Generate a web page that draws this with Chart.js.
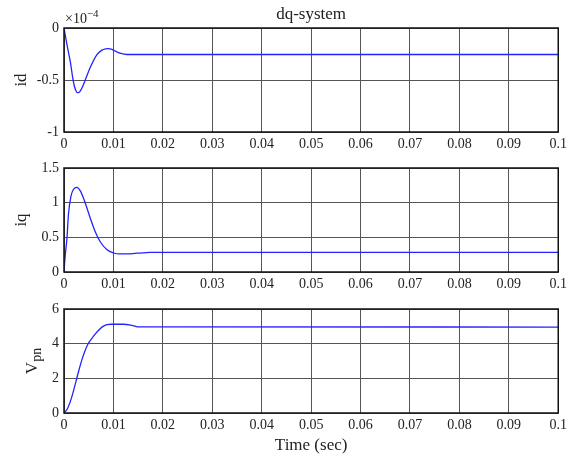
<!DOCTYPE html>
<html>
<head>
<meta charset="utf-8">
<script src="https://cdn.jsdelivr.net/npm/chart.js@4.4.0/dist/chart.umd.min.js"></script>
<style>
    body { margin: 0; background: #fff; }
    #wrap { position: relative; width: 571px; height: 460px; }
    .panel { position: absolute; left: 0; width: 571px; }
</style>
</head>
<body>
<div id="wrap">
    <div class="panel" style="top:0;height:150px"><canvas id="chartId"></canvas></div>
    <div class="panel" style="top:150px;height:140px"><canvas id="chartIq"></canvas></div>
    <div class="panel" style="top:290px;height:170px"><canvas id="chartVpn"></canvas></div>
</div>
<script>
// Data (time in seconds)
// id is plotted in units of 1e-4
const idTime = [0, 0.0006, 0.0013, 0.0018, 0.0021, 0.0024, 0.0027, 0.003, 0.0033, 0.0037, 0.0043, 0.0053, 0.0066, 0.0076, 0.0084, 0.009, 0.0097, 0.0105, 0.0115, 0.0127, 0.1];
const idValues = [0, -0.16, -0.33, -0.49, -0.56, -0.6, -0.622, -0.62, -0.605, -0.57, -0.5, -0.38, -0.26, -0.215, -0.2, -0.198, -0.205, -0.225, -0.245, -0.255, -0.255];

const iqTime = [0, 0.0002, 0.0006, 0.0009, 0.0014, 0.0019, 0.0026, 0.0033, 0.0043, 0.0053, 0.0063, 0.0073, 0.0087, 0.01, 0.0113, 0.0127, 0.0147, 0.016, 0.0175, 0.1];
const iqValues = [0, 0.2, 0.49, 0.83, 1.09, 1.19, 1.22, 1.17, 0.995, 0.78, 0.585, 0.44, 0.32, 0.274, 0.26, 0.26, 0.272, 0.275, 0.283, 0.283];

const vpnTime = [0, 0.0006, 0.0012, 0.0018, 0.0024, 0.003, 0.0036, 0.0042, 0.0048, 0.0055, 0.0063, 0.0071, 0.0079, 0.0087, 0.0095, 0.012, 0.0135, 0.0145, 0.015, 0.1];
const vpnValues = [0, 0.2, 0.6, 1.15, 1.8, 2.45, 3.05, 3.55, 3.95, 4.25, 4.55, 4.8, 5.0, 5.1, 5.12, 5.12, 5.07, 5.0, 4.97, 4.96];

// Tick values
const xTicks = [0, 0.01, 0.02, 0.03, 0.04, 0.05, 0.06, 0.07, 0.08, 0.09, 0.1];
const idTicks = [-1, -0.5, 0];
const iqTicks = [0, 0.5, 1, 1.5];
const vpnTicks = [0, 2, 4, 6];

const SERIF = '"Liberation Serif", "Times New Roman", serif';
const LINE_COLOR = '#2323ff';
const GRID_COLOR = '#555';
const TEXT_COLOR = '#222';

// Box around plot area (MATLAB style)
const framePlugin = {
    id: 'frame',
    afterDraw(chart) {
        const { ctx, chartArea: a } = chart;
        ctx.save();
        ctx.strokeStyle = '#111';
        ctx.lineWidth = 1.5;
        ctx.strokeRect(a.left, a.top, a.right - a.left, a.bottom - a.top);
        ctx.restore();
    }
};

// Rotated y label, with optional subscript
function yLabelPlugin(text, sub, x) {
    return {
        id: 'yLabel',
        afterDraw(chart) {
            const { ctx, chartArea } = chart;
            const yMid = (chartArea.top + chartArea.bottom) / 2;
            ctx.save();
            ctx.translate(x, yMid);
            ctx.rotate(-Math.PI / 2);
            ctx.fillStyle = TEXT_COLOR;
            ctx.textBaseline = 'middle';
            ctx.textAlign = 'left';
            ctx.font = '17px ' + SERIF;
            const w1 = ctx.measureText(text).width;
            let w2 = 0;
            if (sub) {
                ctx.font = '14px ' + SERIF;
                w2 = ctx.measureText(sub).width;
            }
            const start = -(w1 + w2) / 2;
            ctx.font = '17px ' + SERIF;
            ctx.fillText(text, start, 0);
            if (sub) {
                ctx.font = '14px ' + SERIF;
                ctx.fillText(sub, start + w1, 4);
            }
            ctx.restore();
        }
    };
}

// "x10^-4" exponent label above the first plot
const exponentPlugin = {
    id: 'exponent',
    afterDraw(chart) {
        const { ctx, chartArea } = chart;
        ctx.save();
        ctx.fillStyle = TEXT_COLOR;
        ctx.textAlign = 'left';
        ctx.textBaseline = 'alphabetic';
        ctx.font = '14px ' + SERIF;
        const base = '\u00d710';
        ctx.fillText(base, chartArea.left + 1, 23);
        const w = ctx.measureText(base).width;
        ctx.font = '11px ' + SERIF;
        ctx.fillText('\u22124', chartArea.left + 1 + w, 17);
        ctx.restore();
    }
};

function makeChart(canvasId, time, values, yTicks, cfg) {
    const points = time.map((t, i) => ({ x: t, y: values[i] }));
    return new Chart(document.getElementById(canvasId), {
        type: 'line',
        data: {
            datasets: [{
                data: points,
                borderColor: LINE_COLOR,
                borderWidth: 1.3,
                pointRadius: 0,
                cubicInterpolationMode: 'monotone',
                fill: false
            }]
        },
        options: {
            responsive: true,
            maintainAspectRatio: false,
            animation: false,
            layout: { padding: { left: 0, right: 10, top: cfg.padTop, bottom: 0 } },
            plugins: {
                legend: { display: false },
                tooltip: { enabled: false },
                title: cfg.title ? {
                    display: true,
                    text: cfg.title,
                    fullSize: false,
                    color: TEXT_COLOR,
                    font: { family: SERIF, size: 17, weight: 'normal' },
                    padding: { top: 4, bottom: 3.6 }
                } : { display: false }
            },
            scales: {
                x: {
                    type: 'linear',
                    min: 0,
                    max: 0.1,
                    afterBuildTicks: scale => { scale.ticks = xTicks.map(v => ({ value: v })); },
                    afterFit: scale => { scale.height = cfg.xHeight; },
                    grid: { color: GRID_COLOR, lineWidth: 1, drawTicks: false },
                    border: { display: false },
                    ticks: {
                        color: TEXT_COLOR,
                        padding: 4,
                        maxRotation: 0,
                        font: { family: SERIF, size: 14 },
                        callback: v => String(v)
                    },
                    title: cfg.xTitle ? {
                        display: true,
                        text: cfg.xTitle,
                        color: TEXT_COLOR,
                        font: { family: SERIF, size: 17 },
                        padding: { top: 0, bottom: 4 }
                    } : { display: false }
                },
                y: {
                    type: 'linear',
                    min: yTicks[0],
                    max: yTicks[yTicks.length - 1],
                    afterBuildTicks: scale => { scale.ticks = yTicks.map(v => ({ value: v })); },
                    afterFit: scale => { scale.width = 64; },
                    grid: { color: GRID_COLOR, lineWidth: 1, drawTicks: false },
                    border: { display: false },
                    ticks: {
                        color: TEXT_COLOR,
                        padding: 5,
                        font: { family: SERIF, size: 14 },
                        callback: v => String(v)
                    }
                }
            }
        },
        plugins: cfg.plugins
    });
}

makeChart('chartId', idTime, idValues, idTicks, {
    padTop: 0, xHeight: 18, title: 'dq-system',
    plugins: [framePlugin, exponentPlugin, yLabelPlugin('id', null, 22)]
});

makeChart('chartIq', iqTime, iqValues, iqTicks, {
    padTop: 18, xHeight: 18,
    plugins: [framePlugin, yLabelPlugin('iq', null, 22)]
});

makeChart('chartVpn', vpnTime, vpnValues, vpnTicks, {
    padTop: 19, xHeight: 47, xTitle: 'Time (sec)',
    plugins: [framePlugin, yLabelPlugin('V', 'pn', 33)]
});
</script>
</body>
</html>
